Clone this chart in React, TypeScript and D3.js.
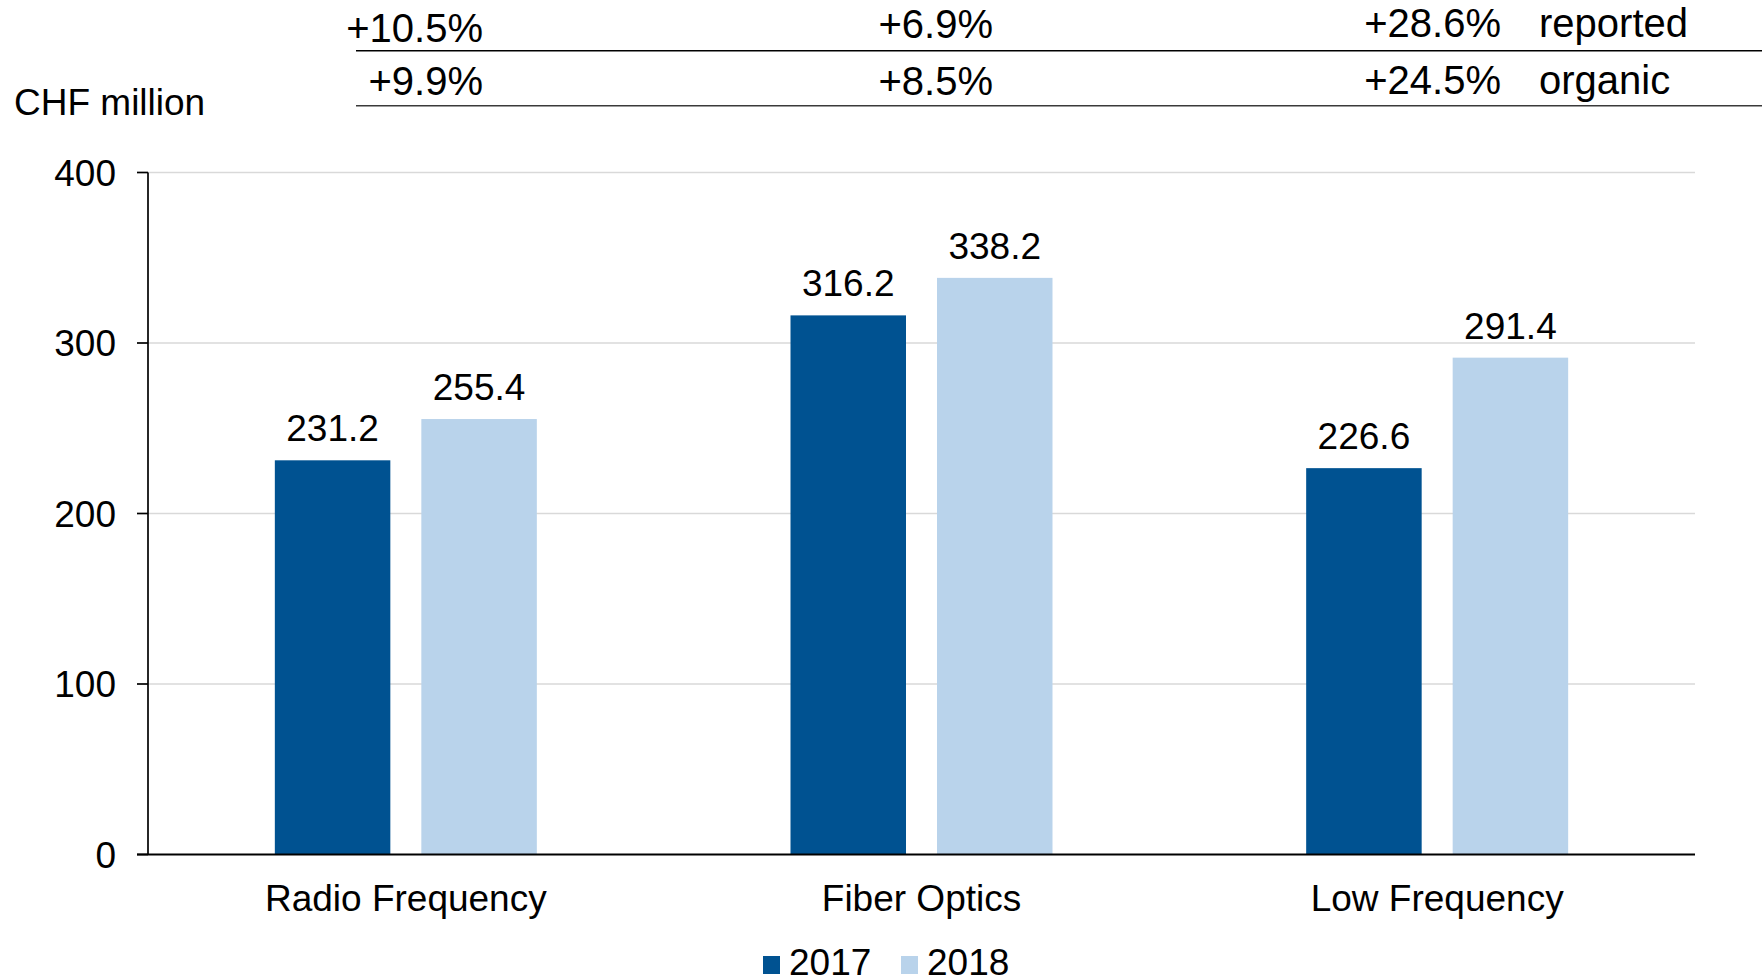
import React from "react";
import * as d3 from "d3";

// Net sales by business segment, CHF million
const categories = ["Radio Frequency", "Fiber Optics", "Low Frequency"];
const years = ["2017", "2018"];
const sales2017 = [231.2, 316.2, 226.6];
const sales2018 = [255.4, 338.2, 291.4];
const reportedGrowth = ["+10.5%", "+6.9%", "+28.6%"];
const organicGrowth = ["+9.9%", "+8.5%", "+24.5%"];
const yTicks = [0, 100, 200, 300, 400];

const W = 1762;
const H = 979;
const FONT = "Arial, 'Liberation Sans', Helvetica, sans-serif";
const COLORS = ["#005291", "#B9D3EB"];

export default function App() {
  const plotLeft = 148;
  const plotRight = 1695;
  const y = d3.scaleLinear().domain([0, 400]).range([854.5, 172.5]);
  const x0 = d3.scaleBand<string>().domain(categories).range([plotLeft, plotRight]).padding(0);
  const groupWidth = 262;
  const outer = (x0.bandwidth() - groupWidth) / 2;
  const x1 = d3
    .scaleBand<string>()
    .domain(years)
    .range([outer, outer + groupWidth])
    .paddingInner(0.2116)
    .paddingOuter(0);
  const series = [sales2017, sales2018];

  // header growth columns are right-aligned at these positions
  const growthRight = [483, 993, 1501];
  const row1Base = [42, 37.5, 37];
  const row2Base = [95, 94.5, 93.5];

  return (
    <svg
      width={W}
      height={H}
      style={{ position: "absolute", left: 0, top: 0, background: "#fff" }}
      fontFamily={FONT}
    >
      {/* growth table */}
      {reportedGrowth.map((t, i) => (
        <text key={"r" + i} x={growthRight[i]} y={row1Base[i]} fontSize={40} textAnchor="end" fill="#000">
          {t}
        </text>
      ))}
      {organicGrowth.map((t, i) => (
        <text key={"o" + i} x={growthRight[i]} y={row2Base[i]} fontSize={40} textAnchor="end" fill="#000">
          {t}
        </text>
      ))}
      <text x={1539} y={37} fontSize={40} fill="#000">reported</text>
      <text x={1539} y={93.5} fontSize={40} fill="#000">organic</text>
      <line x1={356} x2={W} y1={50.7} y2={50.7} stroke="#000" strokeWidth={1.5} />
      <line x1={356} x2={W} y1={105.7} y2={105.7} stroke="#3a3a3a" strokeWidth={1.5} />

      {/* unit label */}
      <text x={14} y={115} fontSize={37} fill="#000">CHF million</text>

      {/* gridlines */}
      {yTicks
        .filter((t) => t > 0)
        .map((t) => (
          <line key={"g" + t} x1={plotLeft} x2={plotRight} y1={y(t)} y2={y(t)} stroke="#D9D9D9" strokeWidth={1.6} />
        ))}

      {/* bars */}
      {categories.map((c, ci) => (
        <g key={c} transform={`translate(${x0(c)},0)`}>
          {years.map((yr, si) => {
            const v = series[si][ci];
            const bx = x1(yr) as number;
            return (
              <g key={yr}>
                <rect x={bx} y={y(v)} width={x1.bandwidth()} height={y(0) - y(v)} fill={COLORS[si]} />
                <text
                  x={bx + x1.bandwidth() / 2}
                  y={y(v) - 19}
                  fontSize={37}
                  textAnchor="middle"
                  fill="#000"
                >
                  {v.toFixed(1)}
                </text>
              </g>
            );
          })}
          <text
            x={(x0.bandwidth()) / 2}
            y={911}
            fontSize={37}
            textAnchor="middle"
            fill="#000"
          >
            {c}
          </text>
        </g>
      ))}

      {/* y axis */}
      <line x1={plotLeft} x2={plotLeft} y1={y(400)} y2={y(0)} stroke="#000" strokeWidth={1.7} />
      {yTicks.map((t) => (
        <g key={"t" + t}>
          <line x1={137} x2={plotLeft} y1={y(t)} y2={y(t)} stroke="#000" strokeWidth={1.7} />
          <text x={116} y={y(t) + 13} fontSize={37} textAnchor="end" fill="#000">
            {t}
          </text>
        </g>
      ))}
      {/* baseline */}
      <line x1={137} x2={plotRight} y1={y(0)} y2={y(0)} stroke="#000" strokeWidth={2.2} />

      {/* legend */}
      {years.map((yr, i) => {
        const lx = [763, 901][i];
        return (
          <g key={"l" + yr}>
            <rect x={lx} y={956} width={17} height={18} fill={COLORS[i]} />
            <text x={lx + 26} y={975} fontSize={37} fill="#000">
              {yr}
            </text>
          </g>
        );
      })}
    </svg>
  );
}
